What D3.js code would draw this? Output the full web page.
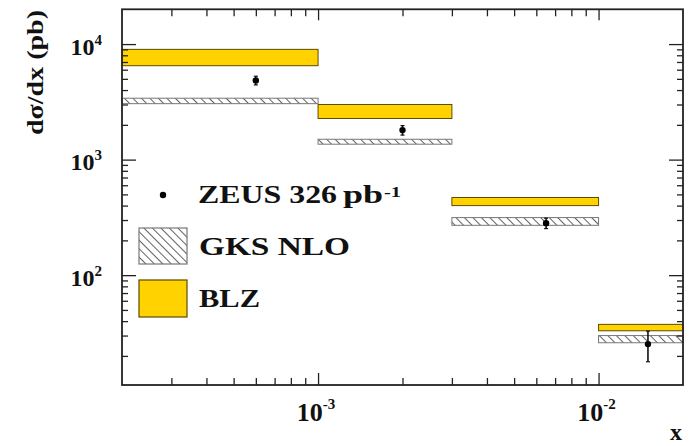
<!DOCTYPE html>
<html>
<head>
<meta charset="utf-8">
<script src="https://cdn.jsdelivr.net/npm/d3@7"></script>
<style>
  html, body { margin: 0; padding: 0; background: #fff; }
  svg { display: block; }
  text { font-family: "Liberation Serif", "Times New Roman", serif; font-weight: bold; fill: #111; }
</style>
</head>
<body>
<svg id="chart" width="694" height="446"></svg>
<script>
// x bins (edges) of the measured distribution
const binEdges = [2e-4, 1e-3, 3e-3, 1e-2, 2e-2];

// BLZ prediction band (low / high edge per bin), pb
const blzLow  = [6500, 2270, 400, 33];
const blzHigh = [9000, 3000, 470, 37.5];

// GKS NLO prediction band (low / high edge per bin), pb
const gksLow  = [3050, 1360, 270, 26];
const gksHigh = [3400, 1500, 315, 30];

// ZEUS 326 pb^-1 measurement
const zeusX   = [6.0e-4, 2.0e-3, 6.5e-3, 0.015];
const zeusY   = [4850, 1800, 282, 25.3];
const zeusErr = [420, 170, 29, 7.5];

// axis ticks
const xMajor = [1e-3, 1e-2];
const xMajorExp = ["-3", "-2"];
const yMajor = [1e2, 1e3, 1e4];
const yMajorExp = ["2", "3", "4"];

const svg = d3.select("#chart");
const L = 122, R = 683, T = 9.3, B = 385;

const x = d3.scaleLog().domain([2e-4, 2e-2]).range([L, R]);
const y = d3.scaleLog().domain([11.2, 2e4]).range([B, T]);

// minor tick positions: 2..9 times each decade, inside the domain
function minors(domain) {
  const out = [];
  for (let e = -6; e <= 6; e++) {
    for (let m = 2; m <= 9; m++) {
      const v = m * Math.pow(10, e);
      if (v > domain[0] * 1.0001 && v < domain[1] * 0.9999) out.push(v);
    }
  }
  return out;
}
const xMinor = minors(x.domain());
const yMinor = minors(y.domain());

// hatch pattern for the GKS band
const defs = svg.append("defs");
defs.append("pattern")
  .attr("id", "hatch")
  .attr("patternUnits", "userSpaceOnUse")
  .attr("width", 6).attr("height", 6)
  .attr("patternTransform", "rotate(-45)")
  .append("line")
  .attr("x1", 0).attr("y1", 0).attr("x2", 0).attr("y2", 6)
  .attr("stroke", "#3a3a3a").attr("stroke-width", 1.6);

const bins = d3.range(binEdges.length - 1).map(i => ({
  x0: binEdges[i], x1: binEdges[i + 1],
  blo: blzLow[i], bhi: blzHigh[i],
  glo: gksLow[i], ghi: gksHigh[i]
}));

// BLZ bands
svg.append("g").selectAll("rect").data(bins).join("rect")
  .attr("x", d => x(d.x0))
  .attr("width", d => x(d.x1) - x(d.x0))
  .attr("y", d => y(d.bhi))
  .attr("height", d => y(d.blo) - y(d.bhi))
  .attr("fill", "#ffd200")
  .attr("stroke", "#5c4c00").attr("stroke-width", 1);

// GKS NLO bands
svg.append("g").selectAll("rect").data(bins).join("rect")
  .attr("x", d => x(d.x0))
  .attr("width", d => x(d.x1) - x(d.x0))
  .attr("y", d => y(d.ghi))
  .attr("height", d => y(d.glo) - y(d.ghi))
  .attr("fill", "url(#hatch)")
  .attr("stroke", "#777").attr("stroke-width", 1);

// ZEUS points with error bars
const pts = zeusX.map((v, i) => ({ x: v, y: zeusY[i], e: zeusErr[i] }));
const gp = svg.append("g");
gp.selectAll("line.err").data(pts).join("line")
  .attr("class", "err")
  .attr("x1", d => x(d.x)).attr("x2", d => x(d.x))
  .attr("y1", d => y(d.y + d.e)).attr("y2", d => y(d.y - d.e))
  .attr("stroke", "#111").attr("stroke-width", 1.6);
gp.selectAll("line.capt").data(pts).join("line")
  .attr("class", "capt")
  .attr("x1", d => x(d.x) - 2).attr("x2", d => x(d.x) + 2)
  .attr("y1", d => y(d.y + d.e)).attr("y2", d => y(d.y + d.e))
  .attr("stroke", "#111").attr("stroke-width", 1.2);
gp.selectAll("line.capb").data(pts).join("line")
  .attr("class", "capb")
  .attr("x1", d => x(d.x) - 2).attr("x2", d => x(d.x) + 2)
  .attr("y1", d => y(d.y - d.e)).attr("y2", d => y(d.y - d.e))
  .attr("stroke", "#111").attr("stroke-width", 1.2);
gp.selectAll("circle").data(pts).join("circle")
  .attr("cx", d => x(d.x)).attr("cy", d => y(d.y)).attr("r", 3.2)
  .attr("fill", "#000");

// axes: ticks pointing inward on all four sides
function styleAxis(g) {
  g.select(".domain").remove();
  g.selectAll(".tick line").attr("stroke", "#222").attr("stroke-width", 1.3);
  g.selectAll(".tick text").remove();
}
svg.append("g").attr("transform", `translate(0,${B})`)
  .call(d3.axisBottom(x).tickValues(xMinor).tickSize(-7).tickFormat("")).call(styleAxis);
svg.append("g").attr("transform", `translate(0,${B})`)
  .call(d3.axisBottom(x).tickValues(xMajor).tickSize(-12).tickFormat("")).call(styleAxis);
svg.append("g").attr("transform", `translate(0,${T})`)
  .call(d3.axisTop(x).tickValues(xMinor).tickSize(-7).tickFormat("")).call(styleAxis);
svg.append("g").attr("transform", `translate(0,${T})`)
  .call(d3.axisTop(x).tickValues(xMajor).tickSize(-11).tickFormat("")).call(styleAxis);
svg.append("g").attr("transform", `translate(${L},0)`)
  .call(d3.axisLeft(y).tickValues(yMinor).tickSize(-6).tickFormat("")).call(styleAxis);
svg.append("g").attr("transform", `translate(${L},0)`)
  .call(d3.axisLeft(y).tickValues(yMajor).tickSize(-14).tickFormat("")).call(styleAxis);
svg.append("g").attr("transform", `translate(${R},0)`)
  .call(d3.axisRight(y).tickValues(yMinor).tickSize(-6).tickFormat("")).call(styleAxis);
svg.append("g").attr("transform", `translate(${R},0)`)
  .call(d3.axisRight(y).tickValues(yMajor).tickSize(-14).tickFormat("")).call(styleAxis);

// frame
svg.append("rect")
  .attr("x", L).attr("y", T).attr("width", R - L).attr("height", B - T)
  .attr("fill", "none").attr("stroke", "#222").attr("stroke-width", 1.8);

// y tick labels 10^n
yMajor.forEach((v, i) => {
  const t = svg.append("text")
    .attr("x", 102).attr("y", y(v) + 10.5)
    .attr("text-anchor", "end");
  t.append("tspan").attr("font-size", 24).text("10");
  t.append("tspan").attr("font-size", 15).attr("dy", -10).text(yMajorExp[i]);
});

// x tick labels 10^n
xMajor.forEach((v, i) => {
  const t = svg.append("text")
    .attr("x", x(v) - 2).attr("y", 421)
    .attr("text-anchor", "middle");
  t.append("tspan").attr("font-size", 26).text("10");
  t.append("tspan").attr("font-size", 15).attr("dy", -12).text(xMajorExp[i]);
});

// axis titles
svg.append("text")
  .attr("transform", "translate(43,72.5) rotate(-90)")
  .attr("text-anchor", "middle")
  .attr("font-size", 24)
  .attr("textLength", 125).attr("lengthAdjust", "spacingAndGlyphs")
  .text("dσ/dx (pb)");
svg.append("text")
  .attr("x", 676).attr("y", 440)
  .attr("text-anchor", "middle")
  .attr("font-size", 24)
  .text("x");

// legend
svg.append("circle").attr("cx", 163).attr("cy", 195).attr("r", 3.2).attr("fill", "#000");
svg.append("text").attr("x", 198).attr("y", 203).attr("font-size", 25)
  .attr("textLength", 139).attr("lengthAdjust", "spacingAndGlyphs").text("ZEUS 326");
svg.append("text").attr("x", 343).attr("y", 203).attr("font-size", 25)
  .attr("textLength", 40).attr("lengthAdjust", "spacingAndGlyphs").text("pb");
svg.append("text").attr("x", 384).attr("y", 197).attr("font-size", 14)
  .attr("textLength", 17).attr("lengthAdjust", "spacingAndGlyphs").text("-1");

svg.append("rect").attr("x", 139).attr("y", 228).attr("width", 48).attr("height", 36)
  .attr("fill", "url(#hatch)").attr("stroke", "#777").attr("stroke-width", 1.2);
svg.append("text").attr("x", 199).attr("y", 255).attr("font-size", 25)
  .attr("textLength", 151).attr("lengthAdjust", "spacingAndGlyphs").text("GKS NLO");

svg.append("rect").attr("x", 139).attr("y", 280).attr("width", 48).attr("height", 37)
  .attr("fill", "#ffd200").attr("stroke", "#5c4c00").attr("stroke-width", 1.2);
svg.append("text").attr("x", 199).attr("y", 306.5).attr("font-size", 25)
  .attr("textLength", 61).attr("lengthAdjust", "spacingAndGlyphs").text("BLZ");
</script>
</body>
</html>
